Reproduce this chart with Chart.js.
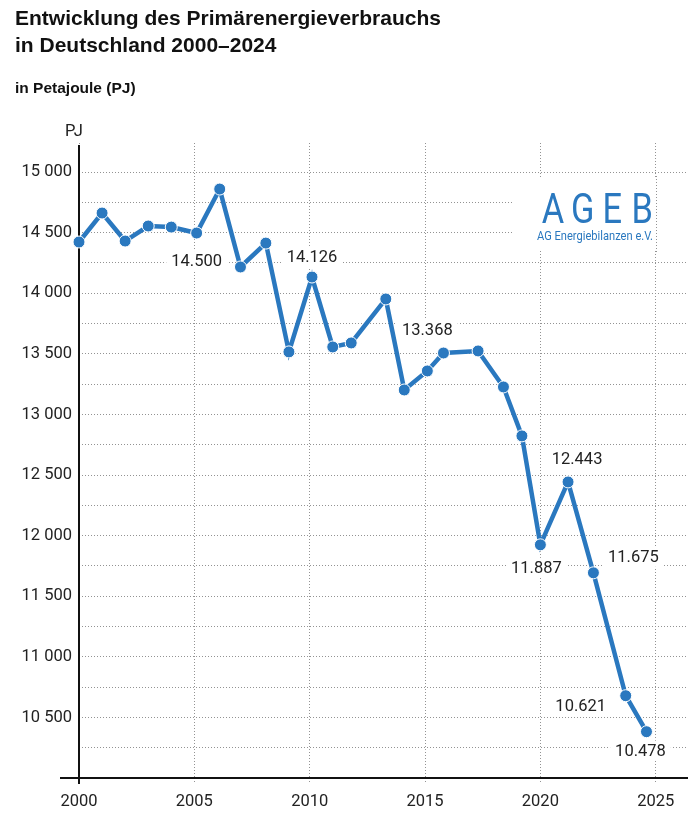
<!DOCTYPE html>
<html lang="de">
  <head>
    <meta charset="UTF-8" />
    <title>Primärenergieverbrauch</title>
    <style>
      body {
        margin: 0;
        background: #fff;
      }
      #wrap {
        position: relative;
        width: 700px;
        height: 816px;
      }
      #myChart {
        position: absolute;
        left: 0;
        top: 0;
      }
      h1 {
        position: absolute;
        left: 15px;
        top: 4px;
        margin: 0;
        font: bold 21px/27px 'Liberation Sans', Arial, sans-serif;
        color: #111;
      }
      h2 {
        position: absolute;
        left: 15px;
        top: 79px;
        margin: 0;
        font: bold 15.5px/18px 'Liberation Sans', Arial, sans-serif;
        color: #111;
      }
    </style>
  </head>
  <body>
    <div id="wrap">
      <canvas id="myChart" width="700" height="816"></canvas>
      <h1>Entwicklung des Primärenergieverbrauchs<br />in Deutschland 2000–2024</h1>
      <h2>in Petajoule (PJ)</h2>
    </div>
    <script src="https://cdn.jsdelivr.net/npm/chart.js"></script>
    <script>
      // years as the points sit on the chart (not quite evenly spaced)
      const years = [2000.0, 2001.0, 2002.0, 2003.0, 2004.0, 2005.1, 2006.1, 2007.0, 2008.1, 2009.1,
        2010.1, 2011.0, 2011.8, 2013.3, 2014.1, 2015.1, 2015.8, 2017.3, 2018.4, 2019.2,
        2020.0, 2021.2, 2022.3, 2023.7, 2024.6]
      const values = [14423, 14662, 14431, 14555, 14546, 14497, 14860, 14217, 14414, 13516,
        14134, 13557, 13590, 13953, 13202, 13359, 13507, 13524, 13227, 12823,
        11924, 12443, 11693, 10679, 10382]
      const valueLabels = [null, null, null, null, null, '14.500', null, null, null, null,
        '14.126', null, null, null, null, '13.368', null, null, null, null,
        '11.887', '12.443', '11.675', '10.621', '10.478']

      const xTicks = [2000, 2005, 2010, 2015, 2020, 2025]
      const yTicks = [10000, 10250, 10500, 10750, 11000, 11250, 11500, 11750, 12000, 12250, 12500,
        12750, 13000, 13250, 13500, 13750, 14000, 14250, 14500, 14750, 15000]
      const yLabelled = [10500, 11000, 11500, 12000, 12500, 13000, 13500, 14000, 14500, 15000]

      const font = "Roboto, 'Liberation Sans', sans-serif"
      const blue = '#2a78bf'
      const gridGrey = '#939393'
      const textCol = '#222'

      const fmt = (v) => Math.floor(v / 1000) + ' ' + String(v % 1000).padStart(3, '0')

      // label offsets from their point, in px
      const labelOffset = {
        5: [0, 28], 10: [0, -20], 15: [0, -41], 20: [-4, 23],
        21: [9, -23], 22: [40, -16], 23: [-45, 10], 24: [-6, 19]
      }

      const extras = {
        id: 'extras',
        beforeDatasetsDraw(chart) {
          const { ctx, chartArea, scales } = chart
          const x = scales.x
          ctx.save()

          // logo box hides the horizontal grid behind it
          ctx.fillStyle = '#fff'
          ctx.fillRect(513, 178, chartArea.right - 513, 72)
          // 2025 grid line stays on top of the box
          ctx.strokeStyle = gridGrey
          ctx.lineWidth = 1
          ctx.setLineDash([1, 2])
          const gx = Math.round(x.getPixelForValue(2025)) + 0.5
          ctx.beginPath()
          ctx.moveTo(gx, 176)
          ctx.lineTo(gx, 252)
          ctx.stroke()
          ctx.setLineDash([])

          ctx.fillStyle = blue
          ctx.textAlign = 'center'
          ctx.textBaseline = 'alphabetic'
          ctx.font = '43px ' + font
          ;['A', 'G', 'E', 'B'].forEach((ch, i) => {
            ctx.save()
            ctx.translate(553 + i * 29.7, 223)
            ctx.scale(0.8, 1)
            ctx.fillText(ch, 0, 0)
            ctx.restore()
          })
          ctx.font = '13px ' + font
          ctx.textAlign = 'left'
          const sub = 'AG Energiebilanzen e.V.'
          const sw = ctx.measureText(sub).width
          ctx.save()
          ctx.translate(537, 240)
          ctx.scale(116 / sw, 1)
          ctx.fillText(sub, 0, 0)
          ctx.restore()

          // axes
          ctx.strokeStyle = '#111'
          ctx.lineWidth = 2
          const ax = x.getPixelForValue(2000)
          ctx.beginPath()
          ctx.moveTo(ax, 145)
          ctx.lineTo(ax, chartArea.bottom + 6)
          ctx.moveTo(60, chartArea.bottom)
          ctx.lineTo(chartArea.right, chartArea.bottom)
          ctx.stroke()

          ctx.fillStyle = textCol
          ctx.font = '16.5px ' + font
          ctx.textAlign = 'center'
          ctx.textBaseline = 'middle'
          ctx.fillText('PJ', ax - 5, 132)

          // value labels on white
          const meta = chart.getDatasetMeta(0)
          valueLabels.forEach((txt, i) => {
            if (!txt) return
            const p = meta.data[i]
            const [dx, dy] = labelOffset[i]
            const cx = p.x + dx
            const cy = p.y + dy
            const w = ctx.measureText(txt).width
            ctx.fillStyle = '#fff'
            ctx.fillRect(cx - w / 2 - 5, cy - 10, w + 10, 20)
            ctx.fillStyle = textCol
            ctx.fillText(txt, cx, cy + 1)
          })
          ctx.restore()
        }
      }

      const ctx = document.getElementById('myChart')
      const myChart = new Chart(ctx, {
        type: 'line',
        data: {
          datasets: [
            {
              data: years.map((y, i) => ({ x: y, y: values[i] })),
              borderColor: blue,
              borderWidth: 4.5,
              backgroundColor: blue,
              pointRadius: 6,
              pointBorderColor: '#fff',
              pointBorderWidth: 1,
              pointBackgroundColor: blue,
              tension: 0,
              clip: false
            }
          ]
        },
        options: {
          responsive: false,
          animation: false,
          events: [],
          layout: { padding: { top: 143, right: 12, left: 0, bottom: 0 } },
          plugins: {
            legend: { display: false },
            tooltip: { enabled: false }
          },
          scales: {
            x: {
              type: 'linear',
              min: 2000,
              max: 2026.4,
              afterFit: (s) => { s.height = 38 },
              afterBuildTicks: (s) => { s.ticks = xTicks.map((v) => ({ value: v })) },
              border: { display: false, dash: [1, 2] },
              grid: {
                color: gridGrey,
                lineWidth: 1,
                tickLength: 6,
                tickColor: gridGrey,
                tickBorderDash: [1, 2]
              },
              ticks: {
                autoSkip: false,
                maxRotation: 0,
                padding: 8,
                color: textCol,
                font: { family: font, size: 16.5 },
                callback: (v) => String(v)
              }
            },
            y: {
              min: 10000,
              max: 15240,
              afterFit: (s) => { s.width = 79 },
              afterBuildTicks: (s) => { s.ticks = yTicks.map((v) => ({ value: v })) },
              border: { display: false, dash: [1, 2] },
              grid: { color: gridGrey, lineWidth: 1, drawTicks: false },
              ticks: {
                autoSkip: false,
                padding: 7,
                color: textCol,
                font: { family: font, size: 16.5 },
                callback: (v) => (yLabelled.includes(v) ? fmt(v) : '')
              }
            }
          }
        },
        plugins: [extras]
      })
    </script>
  </body>
</html>
